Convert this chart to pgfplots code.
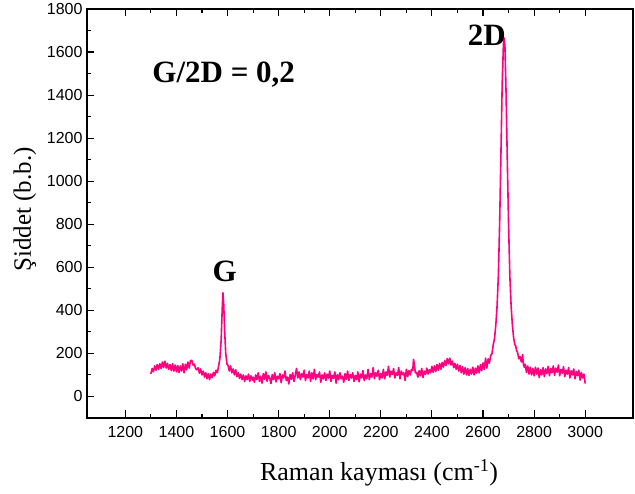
\documentclass[border=0pt]{standalone}
\usepackage{pgfplots}
\pgfplotsset{compat=1.18}
\usepackage{fontspec}
\setmainfont{Liberation Serif}
\newfontfamily\arial{Liberation Sans}
\definecolor{raman}{RGB}{255,0,128}

\begin{document}
\begin{tikzpicture}
\begin{axis}[scale only axis,width=546pt,height=409pt,
  xmin=1050,xmax=3187,ymin=-100,ymax=1800,
  xtick={1200,1400,...,3000},ytick={0,200,...,1800},
  minor x tick num=1,minor y tick num=1,
  xtick pos=both,ytick pos=left,tick align=inside,
  major tick length=7.5pt,minor tick length=4pt,
  axis line style={line width=1.3pt},
  every tick/.style={black,line width=1.1pt},
  scaled ticks=false,
  /pgf/number format/1000 sep={},
  /pgf/number format/assume math mode=true,
  tick label style={font=\arial\fontsize{16}{16}\selectfont},
  xticklabel style={yshift=-5pt},
  yticklabel style={xshift=-1pt},
  xlabel={Raman kayması (cm\textsuperscript{-1})},
  ylabel={Şiddet (b.b.)},
  xlabel style={font=\fontsize{26}{26}\selectfont,at={(axis description cs:0.535,-0.1345)},anchor=center},
  ylabel style={font=\fontsize{25}{25}\selectfont,at={(axis description cs:-0.1136,0.51)},anchor=center},
  clip=false]
\addplot[raman,line width=1.6pt,line join=round] coordinates {
(1300,105) (1305,130) (1310,115) (1315,142) (1320,122) (1325,148) (1330,126) (1335,152) (1340,130) (1345,160)
(1350,134) (1355,164) (1360,132) (1365,154) (1370,126) (1375,148) (1380,120) (1385,152) (1390,118) (1395,146)
(1400,114) (1405,144) (1410,112) (1415,142) (1420,118) (1425,152) (1430,110) (1435,150) (1440,124) (1445,160)
(1450,132) (1455,166) (1460,168) (1465,146) (1470,150) (1475,130) (1480,124) (1485,134) (1490,108) (1495,128)
(1500,100) (1505,118) (1510,90) (1515,110) (1520,82) (1525,106) (1530,78) (1535,104) (1540,88) (1545,112)
(1550,96) (1555,122) (1560,110) (1565,140) (1570,175) (1575,260) (1579,400) (1582,482) (1585,430) (1589,300)
(1593,200) (1598,150) (1602,145) (1607,118) (1612,142) (1617,110) (1622,128) (1627,100) (1632,124) (1637,92)
(1642,110) (1647,84) (1652,104) (1657,78) (1662,100) (1667,70) (1672,96) (1677,78) (1682,104) (1687,70)
(1692,96) (1697,76) (1700,90) (1705,66) (1710,100) (1715,78) (1720,110) (1725,70) (1730,94) (1735,62)
(1740,106) (1745,80) (1750,114) (1755,70) (1760,98) (1765,86) (1770,60) (1775,102) (1780,78) (1785,110)
(1790,68) (1795,94) (1800,82) (1805,106) (1810,64) (1815,100) (1820,86) (1825,118) (1830,74) (1835,90)
(1840,58) (1845,102) (1850,80) (1855,110) (1860,70) (1865,98) (1870,130) (1875,86) (1880,114) (1885,78)
(1890,106) (1895,90) (1900,122) (1905,74) (1910,102) (1915,86) (1920,118) (1925,70) (1930,110) (1935,82)
(1940,126) (1945,78) (1950,102) (1955,90) (1960,114) (1965,66) (1970,100) (1975,82) (1980,110) (1985,74)
(1990,104) (1995,86) (2000,118) (2005,70) (2010,98) (2015,84) (2020,114) (2025,62) (2030,102) (2035,78)
(2040,110) (2045,82) (2050,94) (2055,66) (2060,106) (2065,80) (2070,118) (2075,74) (2080,102) (2085,86)
(2090,110) (2095,70) (2100,98) (2105,78) (2110,114) (2115,68) (2120,104) (2125,86) (2130,120) (2135,74)
(2140,100) (2145,82) (2150,126) (2155,78) (2160,106) (2165,90) (2170,134) (2175,82) (2180,110) (2185,94)
(2190,122) (2195,78) (2200,106) (2205,86) (2210,126) (2215,82) (2220,114) (2225,98) (2230,140) (2235,90)
(2240,118) (2245,102) (2250,130) (2255,86) (2260,110) (2265,98) (2270,134) (2275,82) (2280,118) (2285,102)
(2290,110) (2295,74) (2300,126) (2305,92) (2310,120) (2315,100) (2320,126) (2325,120) (2328,172) (2331,150)
(2335,110) (2340,112) (2345,90) (2350,120) (2355,96) (2360,130) (2365,88) (2370,118) (2375,102) (2380,132)
(2385,104) (2390,124) (2395,110) (2400,140) (2405,112) (2410,142) (2415,116) (2420,148) (2425,122) (2430,154)
(2435,126) (2440,158) (2445,136) (2450,166) (2455,144) (2460,176) (2465,152) (2470,178) (2475,146) (2480,164)
(2485,134) (2490,154) (2495,126) (2500,150) (2505,118) (2510,144) (2515,110) (2520,138) (2525,104) (2530,134)
(2535,100) (2540,130) (2545,98) (2550,126) (2555,104) (2560,136) (2565,100) (2570,132) (2575,108) (2580,142)
(2585,110) (2590,148) (2595,120) (2600,156) (2605,126) (2610,178) (2615,132) (2620,175) (2625,155) (2630,190)
(2635,198) (2640,240) (2645,270) (2650,330) (2655,420) (2660,560) (2665,800) (2670,1120) (2675,1450) (2680,1640)
(2683,1665) (2686,1620) (2690,1420) (2695,1100) (2700,800) (2705,560) (2710,420) (2715,330) (2720,270) (2725,240)
(2728,235) (2731,215) (2735,205) (2740,175) (2745,185) (2750,160) (2755,195) (2758,150) (2762,135) (2765,150)
(2770,112) (2775,142) (2780,104) (2785,136) (2790,100) (2795,130) (2800,96) (2805,136) (2810,104) (2815,132)
(2820,88) (2825,124) (2830,100) (2835,134) (2840,92) (2845,128) (2850,106) (2855,140) (2860,96) (2865,130)
(2870,110) (2875,142) (2880,98) (2885,132) (2890,112) (2895,146) (2900,96) (2905,126) (2910,108) (2915,138)
(2920,92) (2925,122) (2930,104) (2935,134) (2940,86) (2945,120) (2950,100) (2955,128) (2960,82) (2965,116)
(2970,96) (2975,122) (2980,76) (2985,112) (2990,86) (2995,104) (3000,60)
};
\node[font=\bfseries\fontsize{31}{31}\selectfont] at (axis cs:1585,1493) {G/2D = 0,2};
\node[font=\bfseries\fontsize{31}{31}\selectfont] at (axis cs:1589,581) {G};
\node[font=\bfseries\fontsize{31}{31}\selectfont] at (axis cs:2615,1679) {2D};
\path (rel axis cs:0,0) ++(-87pt,-76pt);
\path (rel axis cs:1,1) ++(2pt,9pt);
\end{axis}
\end{tikzpicture}
\end{document}
